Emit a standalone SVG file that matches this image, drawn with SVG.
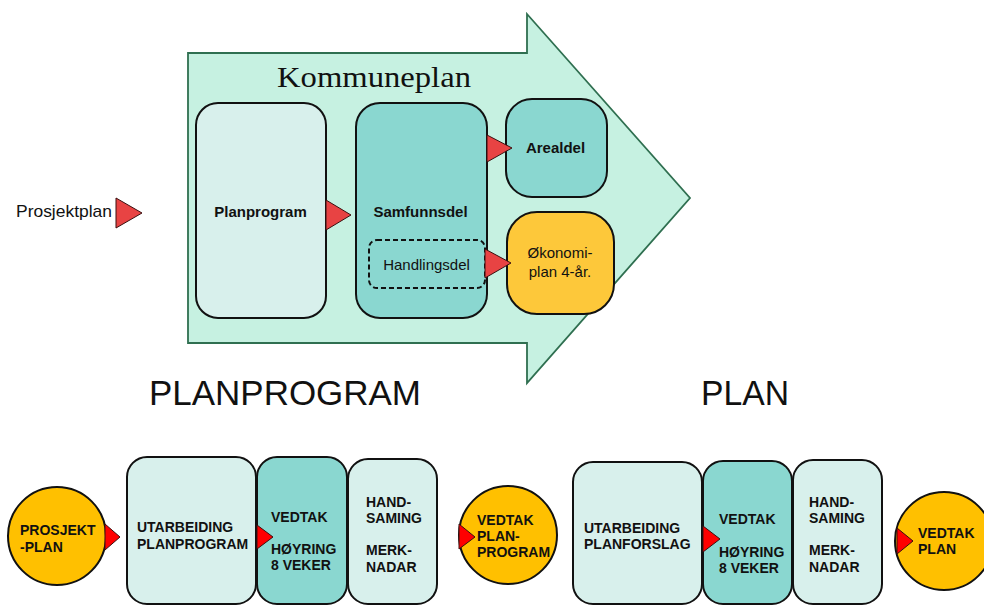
<svg xmlns="http://www.w3.org/2000/svg" width="984" height="606" viewBox="0 0 984 606">
<style>
.sans{font-family:"Liberation Sans",Arial,sans-serif;fill:#111}
.b{font-weight:bold}
.box{stroke:#111;stroke-width:2}
.light{fill:#d8f0ec}
.teal{fill:#8ad7d0}
.gold{fill:#fdc83a}
.org{fill:#ffc000;stroke:#111;stroke-width:2}
.tri{fill:#e84343;stroke:#3a1010;stroke-width:1}
.tri2{fill:#ff0000;stroke:#3a1010;stroke-width:1}
.b14{font-size:14px;font-weight:bold}
</style>
<rect width="984" height="606" fill="#ffffff"/>
<g id="kommuneplan">
<path d="M188,53 H527 V14 L690,198 L527,383 V343 H188 Z" fill="#c6f1e1" stroke="#2f6f50" stroke-width="1.8"/>
<text x="374" y="87" text-anchor="middle" font-family="'Liberation Serif','Times New Roman',serif" font-size="30" textLength="194" lengthAdjust="spacingAndGlyphs" fill="#111">Kommuneplan</text>
</g>
<g id="prosjektplan">
<text class="sans" x="16" y="217" font-size="17" textLength="96" lengthAdjust="spacingAndGlyphs">Prosjektplan</text>
</g>
<g id="planprogram">
<rect class="box light" x="196" y="103" width="130" height="215" rx="22"/>
<text class="sans b" x="260.5" y="217" font-size="15" text-anchor="middle">Planprogram</text>
</g>
<g id="samfunnsdel">
<rect class="box teal" x="356" y="103" width="131" height="215" rx="24"/>
<text class="sans b" x="420.5" y="217" font-size="15" text-anchor="middle">Samfunnsdel</text>
</g>
<g id="handlingsdel">
<rect x="369" y="240" width="116" height="48" rx="8" fill="#8ad7d0" stroke="#111" stroke-width="2" stroke-dasharray="5,3"/>
<text class="sans" x="426.5" y="270" font-size="15" text-anchor="middle">Handlingsdel</text>
</g>
<g id="arealdel">
<rect class="box teal" x="506" y="99" width="101" height="98" rx="26"/>
<text class="sans b" x="555.5" y="153" font-size="15" text-anchor="middle">Arealdel</text>
</g>
<g id="okonomiplan">
<rect class="box gold" x="507" y="212" width="107" height="102" rx="30"/>
<text class="sans" x="560" y="258" font-size="15" text-anchor="middle">Økonomi-</text>
<text class="sans" x="560" y="277" font-size="15" text-anchor="middle">plan 4-år.</text>
</g>
<g id="connectors-top">
<polygon class="tri" points="116,198 142,213 116,228"/>
<polygon class="tri" points="326,200 351,215 326,230"/>
<polygon class="tri" points="487,135 512,148 487,162"/>
<polygon class="tri" points="485,249 511,263 485,278"/>
</g>
<g id="headings">
<text class="sans" x="149" y="405" font-size="35" textLength="272" lengthAdjust="spacingAndGlyphs">PLANPROGRAM</text>
<text class="sans" x="701" y="405" font-size="35" textLength="88" lengthAdjust="spacingAndGlyphs">PLAN</text>
</g>
<g id="prosjekt-plan">
<circle class="org" cx="57" cy="536" r="49"/>
<text class="sans b14" x="20" y="535">PROSJEKT</text>
<text class="sans b14" x="20" y="552">-PLAN</text>
</g>
<g id="utarbeiding-planprogram">
<rect class="box light" x="127" y="457" width="129" height="147" rx="20"/>
<text class="sans b14" x="137" y="532">UTARBEIDING</text>
<text class="sans b14" x="137" y="549">PLANPROGRAM</text>
</g>
<g id="vedtak-hoyring-1">
<rect class="box teal" x="257" y="457" width="90" height="147" rx="20"/>
<text class="sans b14" x="271" y="522">VEDTAK</text>
<text class="sans b14" x="271" y="554">HØYRING</text>
<text class="sans b14" x="271" y="570">8 VEKER</text>
</g>
<g id="handsaming-1">
<rect class="box light" x="348" y="459" width="89" height="145" rx="20"/>
<text class="sans b14" x="366" y="507">HAND-</text>
<text class="sans b14" x="366" y="523">SAMING</text>
<text class="sans b14" x="366" y="555">MERK-</text>
<text class="sans b14" x="366" y="572">NADAR</text>
</g>
<g id="vedtak-planprogram">
<circle class="org" cx="508" cy="535" r="49"/>
<text class="sans b14" x="477" y="525">VEDTAK</text>
<text class="sans b14" x="477" y="541">PLAN-</text>
<text class="sans b14" x="477" y="557">PROGRAM</text>
</g>
<g id="utarbeiding-planforslag">
<rect class="box light" x="573" y="462" width="129" height="142" rx="20"/>
<text class="sans b14" x="584" y="533">UTARBEIDING</text>
<text class="sans b14" x="584" y="549">PLANFORSLAG</text>
</g>
<g id="vedtak-hoyring-2">
<rect class="box teal" x="703" y="461" width="89" height="143" rx="20"/>
<text class="sans b14" x="719" y="524">VEDTAK</text>
<text class="sans b14" x="719" y="557">HØYRING</text>
<text class="sans b14" x="719" y="573">8 VEKER</text>
</g>
<g id="handsaming-2">
<rect class="box light" x="793" y="460" width="89" height="144" rx="20"/>
<text class="sans b14" x="809" y="507">HAND-</text>
<text class="sans b14" x="809" y="523">SAMING</text>
<text class="sans b14" x="809" y="555">MERK-</text>
<text class="sans b14" x="809" y="572">NADAR</text>
</g>
<g id="vedtak-plan">
<circle class="org" cx="944" cy="541" r="49"/>
<text class="sans b14" x="918" y="538">VEDTAK</text>
<text class="sans b14" x="918" y="554">PLAN</text>
</g>
<g id="connectors-bottom">
<polygon class="tri2" points="105,524 120,537 105,550"/>
<polygon class="tri2" points="257,525 273,537 257,549"/>
<polygon class="tri2" points="459,524 475,537 459,549"/>
<polygon class="tri2" points="703,526 720,539 703,552"/>
<polygon class="tri2" points="897,528 913,541 897,554"/>
</g>
</svg>
